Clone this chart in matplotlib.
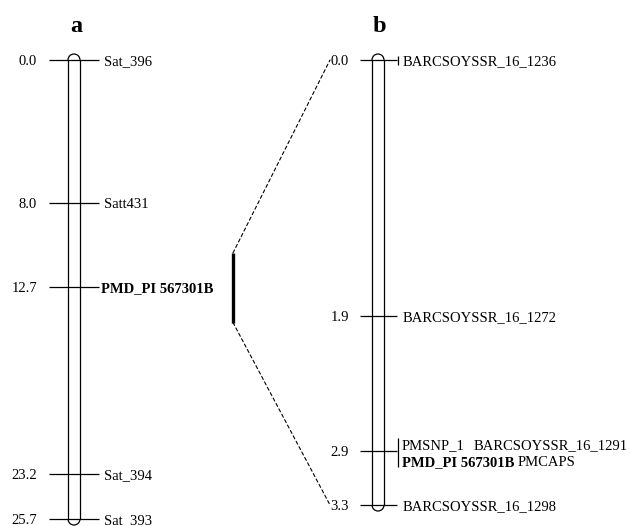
import matplotlib
matplotlib.use("Agg")
import matplotlib.pyplot as plt
from matplotlib.patches import Arc, ConnectionPatch

plt.rcParams['font.family'] = ['Liberation Serif', 'DejaVu Serif']

# linkage group a (cM)
pos_a = [0.0, 8.0, 12.7, 23.2, 25.7]
names_a = ['Sat_396', 'Satt431', 'PMD_PI 567301B', 'Sat_394', 'Sat_393']
bold_a = [False, False, True, False, False]
qtl_a = [10.8, 14.7]  # interval expanded into map b

# fine map b (cM)
pos_b = [0.0, 1.9, 2.9, 3.3]
names_b = ['BARCSOYSSR_16_1236', 'BARCSOYSSR_16_1272', None, 'BARCSOYSSR_16_1298']
# markers stacked at 2.9 cM: rows of (text, bold)
group_b = [[('PMSNP_1', False), ('BARCSOYSSR_16_1291', False)],
           [('PMD_PI 567301B', True), ('PMCAPS', False)]]

W, H = 630, 526
FS = 10.5

fig = plt.figure(figsize=(W / 100, H / 100), dpi=100)


def chrom_axes(y_top, y_bot, length):
    ax = fig.add_axes([0, (H - y_bot) / H, 1, (y_bot - y_top) / H])
    ax.set_xlim(0, W)
    ax.set_ylim(length, 0)
    ax.axis('off')
    return ax


def draw_tube(ax, xc, length, half=6):
    ppc = (ax.bbox.height) / length  # pixels per cM
    ax.vlines([xc - half, xc + half], 0, length, color='black', lw=0.9)
    ax.add_patch(Arc((xc, 0), 2 * half, 2 * half / ppc, theta1=180, theta2=360,
                     color='black', lw=0.9, clip_on=False))
    ax.add_patch(Arc((xc, length), 2 * half, 2 * half / ppc, theta1=0, theta2=180,
                     color='black', lw=0.9, clip_on=False))
    return ppc


# ---- map a
axa = chrom_axes(60, 519, pos_a[-1])
draw_tube(axa, 74, pos_a[-1])
axa.hlines(pos_a, 49, 99, color='black', lw=0.9, clip_on=False)
for p, name, b in zip(pos_a, names_a, bold_a):
    axa.text(37, p, f'{p:.1f}', ha='right', va='center_baseline', fontsize=FS, clip_on=False)
    axa.text(104 if not b else 101, p, name, ha='left', va='center_baseline', fontsize=FS,
             fontweight='bold' if b else 'normal', clip_on=False)
axa.vlines(233, qtl_a[0], qtl_a[1], color='black', lw=2.4)

# ---- map b
axb = chrom_axes(60, 505, pos_b[-1])
ppc_b = draw_tube(axb, 378, pos_b[-1])
axb.hlines(pos_b, 360, 397, color='black', lw=0.9, clip_on=False)
for p, name in zip(pos_b, names_b):
    axb.text(349, p, f'{p:.1f}', ha='right', va='center_baseline', fontsize=FS, clip_on=False)
    if name is not None:
        axb.text(403, p, name, ha='left', va='center_baseline', fontsize=FS, clip_on=False)
# small label connector at top marker
axb.vlines(398, pos_b[0] - 4.5 / ppc_b, pos_b[0] + 4.5 / ppc_b, color='black', lw=0.9,
           clip_on=False)
# stacked markers at 2.9
p = pos_b[2]
axb.vlines(398, p - 13 / ppc_b, p + 16 / ppc_b, color='black', lw=0.9)
row_dy = [-7, 10]
col_x = [[402, 474], [402, 518]]
for row, dy, xs in zip(group_b, row_dy, col_x):
    for (txt, b), x in zip(row, xs):
        axb.text(x, p + dy / ppc_b, txt, ha='left', va='center_baseline', fontsize=FS,
                 fontweight='bold' if b else 'normal')

# dashed connectors from interval on a to ends of b
for ya, yb in zip(qtl_a, [pos_b[0], pos_b[-1]]):
    con = ConnectionPatch(xyA=(233, ya), coordsA=axa.transData,
                          xyB=(330, yb), coordsB=axb.transData,
                          linestyle=(0, (3, 2.5)), lw=0.8, color='black')
    fig.add_artist(con)

fig.text(76 / W, 1 - 32 / H, 'a', ha='center', va='baseline', fontsize=17.5, fontweight='bold')
fig.text(379 / W, 1 - 32 / H, 'b', ha='center', va='baseline', fontsize=17.5, fontweight='bold')

fig.savefig('out.png', dpi=100)
